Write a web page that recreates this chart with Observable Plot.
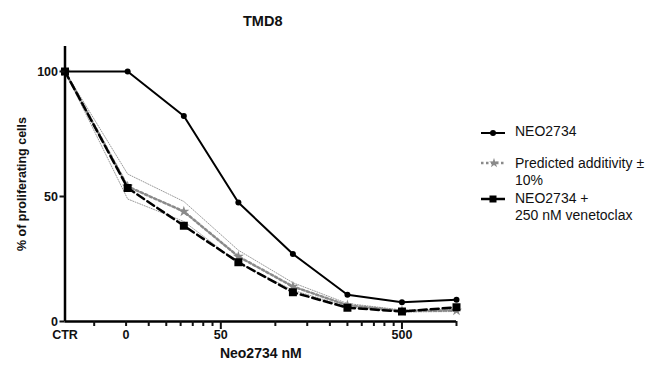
<!DOCTYPE html>
<html>
<head>
<meta charset="utf-8">
<script src="https://cdn.jsdelivr.net/npm/d3@7"></script>
<script src="https://cdn.jsdelivr.net/npm/@observablehq/plot@0.6"></script>
<style>
  body { margin: 0; background: #fff; font-family: "Liberation Sans", Arial, sans-serif; }
  #wrap { position: relative; width: 667px; height: 368px; }
  #legend { position: absolute; left: 479px; top: 0; width: 188px; font-size: 14px; color: #111; }
  .item { position: absolute; left: 0; display: flex; align-items: flex-start; }
  .item svg { flex: none; }
  .item span { position: absolute; left: 36px; line-height: 17.5px; white-space: nowrap; }
</style>
</head>
<body>
<div id="wrap"></div>
<script>
// ---- data ----
const title = "TMD8";
const doseLabels = ["CTR", "15.6", "31.25", "62.5", "125", "250", "500", "1000"];
const doses = [6.9, 15.3, 31.25, 62.5, 125, 250, 500, 1000]; // CTR drawn at axis start
const neo2734 = [100, 100, 82.2, 47.6, 27, 10.7, 7.7, 8.7];
const predicted = [100, 54, 44, 26, 14, 6.5, 4.2, 4.4];
const predictedUpper = [100, 59, 48, 28.5, 15.5, 7.2, 4.6, 4.8];
const predictedLower = [100, 49, 40, 23.5, 12.5, 5.9, 3.8, 4.0];
const combo = [100, 53.4, 38.3, 23.7, 11.7, 5.5, 4.0, 5.7];
const xMinorTicks = [10, 15, 20, 25, 30, 35, 40, 45, 100, 150, 200, 250, 300, 350, 400, 450, 1000];
const xMajorTicks = [50, 500];
const xLabelTicks = [6.9, 15, 50, 500];
const xLabelTexts = ["CTR", "0", "50", "500"];
const yTicks = [0, 50, 100];
const seriesNames = ["NEO2734", "Predicted additivity ±\n10%", "NEO2734 +\n250 nM venetoclax"];
const xTitle = "Neo2734 nM";
const yTitle = "% of proliferating cells";

const rows = doses.map((d, i) => ({
  dose: d, label: doseLabels[i],
  neo: neo2734[i], pred: predicted[i], up: predictedUpper[i], lo: predictedLower[i], combo: combo[i]
}));

const bold = {fontWeight: "bold", fontSize: 12.5, fill: "#111"};

const chart = Plot.plot({
  width: 667,
  height: 368,
  marginLeft: 64.5,
  marginRight: 211,
  marginTop: 46,
  marginBottom: 47,
  style: {fontFamily: "'Liberation Sans', Arial, sans-serif", color: "#111", background: "#fff"},
  x: {type: "log", domain: [doses[0], 1000], axis: null},
  y: {domain: [0, 110], axis: null},
  marks: [
    // band ±10%
    Plot.line(rows, {x: "dose", y: "up", stroke: "#9a9a9a", strokeWidth: 1, strokeDasharray: "1,1.5"}),
    Plot.line(rows, {x: "dose", y: "lo", stroke: "#9a9a9a", strokeWidth: 1, strokeDasharray: "1,1.5"}),
    // predicted additivity
    Plot.line(rows, {x: "dose", y: "pred", stroke: "#8a8a8a", strokeWidth: 2.5, strokeDasharray: "2.5,2.5"}),
    Plot.dot(rows, {x: "dose", y: "pred", symbol: "star", r: 3.5, fill: "#8a8a8a"}),
    // combination
    Plot.line(rows, {x: "dose", y: "combo", stroke: "#000", strokeWidth: 2.5, strokeDasharray: "8,4"}),
    Plot.dot(rows, {x: "dose", y: "combo", symbol: "square", r: 4.5, fill: "#000"}),
    // NEO2734
    Plot.line(rows, {x: "dose", y: "neo", stroke: "#000", strokeWidth: 2}),
    Plot.dot(rows, {x: "dose", y: "neo", symbol: "circle", r: 3, fill: "#000"}),
    // axes lines
    Plot.ruleY([0], {stroke: "#000", strokeWidth: 2.5}),
    Plot.ruleX([doses[0]], {stroke: "#000", strokeWidth: 2.5}),
    // x ticks
    Plot.axisX({ticks: xMinorTicks, tickSize: 5, strokeWidth: 2, tickFormat: () => "", anchor: "bottom", label: null}),
    Plot.axisX({ticks: xMajorTicks, tickSize: 8, strokeWidth: 2, tickFormat: () => "", anchor: "bottom", label: null}),
    Plot.text(xLabelTicks, {x: d => d, text: (d, i) => xLabelTexts[i], frameAnchor: "bottom", dy: 17, textAnchor: "middle", ...bold}),
    // y ticks
    Plot.axisY({ticks: yTicks, tickSize: 5, strokeWidth: 2, tickPadding: 2, anchor: "left", label: null, ...bold}),
    // titles
    Plot.text([yTitle], {frameAnchor: "left", textAnchor: "middle", rotate: -90, dx: -43.5, fontWeight: "bold", fontSize: 12.5, fill: "#111"}),
    Plot.text([xTitle], {frameAnchor: "bottom", textAnchor: "middle", dy: 36, fontWeight: "bold", fontSize: 14, fill: "#111"}),
    Plot.text([title], {frameAnchor: "top", textAnchor: "middle", dy: -31, dx: 2, fontWeight: "bold", fontSize: 14.5, fill: "#111"})
  ]
});

const wrap = document.getElementById("wrap");
wrap.appendChild(chart);

// ---- legend ----
const legend = document.createElement("div");
legend.id = "legend";
const sym = [
  `<svg width="28" height="10"><line x1="2" y1="5" x2="26" y2="5" stroke="#000" stroke-width="2"/><circle cx="14" cy="5" r="3" fill="#000"/></svg>`,
  `<svg width="28" height="10"><line x1="2" y1="5" x2="26" y2="5" stroke="#8a8a8a" stroke-width="2.5" stroke-dasharray="2.5,2.5"/><path transform="translate(15,5)" d="${d3.symbol(d3.symbolStar, 30)()}" fill="#8a8a8a"/></svg>`,
  `<svg width="28" height="10"><line x1="2" y1="5" x2="26" y2="5" stroke="#000" stroke-width="2.5"/><rect x="10.5" y="1.5" width="7" height="7" fill="#000"/></svg>`
];
const symTop = [127.5, 158, 194];
const textTop = [122.5, 154.5, 189.5];
seriesNames.forEach((name, i) => {
  const it = document.createElement("div");
  it.className = "item";
  it.style.top = symTop[i] + "px";
  it.innerHTML = sym[i];
  legend.appendChild(it);
  const t = document.createElement("div");
  t.className = "item";
  t.style.top = textTop[i] + "px";
  t.innerHTML = `<span>${name.replace("\n", "<br>")}</span>`;
  legend.appendChild(t);
});
wrap.appendChild(legend);
</script>
</body>
</html>
